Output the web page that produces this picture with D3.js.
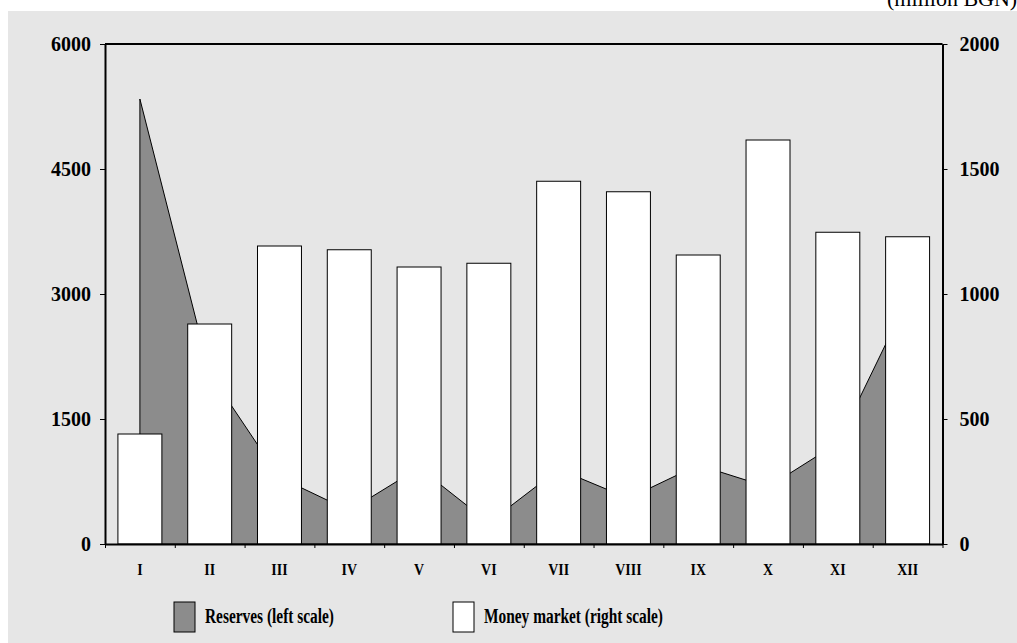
<!DOCTYPE html>
<html>
<head>
<meta charset="utf-8">
<script src="https://cdn.jsdelivr.net/npm/d3@7"></script>
<style>
  html, body { margin: 0; padding: 0; background: #ffffff; }
  svg { display: block; }
  text { font-family: "Liberation Serif", "Times New Roman", serif; font-weight: bold; fill: #000; }
</style>
</head>
<body>
<svg id="chart" width="1017" height="643"></svg>
<script>
// Months of the year
const months = ["I", "II", "III", "IV", "V", "VI", "VII", "VIII", "IX", "X", "XI", "XII"];
// Reserves, million BGN (left scale)
const reserves = [5340, 2050, 800, 400, 915, 255, 897, 548, 948, 683, 1212, 2940];
// Money market, million BGN (right scale)
const moneyMarket = [440, 880, 1192, 1177, 1108, 1123, 1451, 1409, 1156, 1616, 1247, 1229];
// Axis ticks
const leftTicks = [0, 1500, 3000, 4500, 6000];
const rightTicks = [0, 500, 1000, 1500, 2000];

const svg = d3.select("#chart");
const W = 1017, H = 643;
const plot = { left: 105, right: 942.5, top: 44, bottom: 544 };

// Panel background
svg.append("rect").attr("x", 8).attr("y", 11).attr("width", W - 8).attr("height", H - 11)
  .attr("fill", "#e6e6e6");

// Unit note
svg.append("text").attr("x", 887).attr("y", 6).attr("font-size", 22)
  .style("font-weight", "normal").text("(million BGN)");

const x = d3.scaleBand().domain(months).range([plot.left, plot.right])
  .paddingInner(0.37).paddingOuter(0.185);
const yL = d3.scaleLinear().domain([0, 6000]).range([plot.bottom, plot.top]);
const yR = d3.scaleLinear().domain([0, 2000]).range([plot.bottom, plot.top]);
const edges = d3.scaleLinear().domain([0, months.length]).range([plot.left, plot.right]);

// Reserves area
const area = d3.area()
  .x((d, i) => x(months[i]) + x.bandwidth() / 2)
  .y0(yL(0))
  .y1(d => yL(d));
svg.append("path").datum(reserves).attr("d", area)
  .attr("fill", "#8c8c8c").attr("stroke", "#000").attr("stroke-width", 1)
  .attr("stroke-linejoin", "miter");

// Money market bars
svg.append("g").selectAll("rect").data(moneyMarket).join("rect")
  .attr("x", (d, i) => x(months[i]))
  .attr("y", d => yR(d))
  .attr("width", x.bandwidth())
  .attr("height", d => yR(0) - yR(d))
  .attr("fill", "#ffffff").attr("stroke", "#000").attr("stroke-width", 1);

// Frame top line
svg.append("line").attr("x1", plot.left).attr("x2", plot.right)
  .attr("y1", plot.top).attr("y2", plot.top)
  .attr("stroke", "#000").attr("stroke-width", 2);

function styleAxis(g) {
  g.select(".domain").attr("stroke", "#000").attr("stroke-width", 2);
  g.selectAll(".tick line").attr("stroke", "#000").attr("stroke-width", 1);
  g.selectAll("text").attr("font-family", null).attr("font-size", null)
    .style("font-size", "20px");
}

const fmt = d3.format("d");

// Left axis
svg.append("g").attr("transform", `translate(${plot.left},0)`)
  .call(d3.axisLeft(yL).tickValues(leftTicks).tickFormat(fmt)
    .tickSize(5).tickPadding(9).tickSizeOuter(0))
  .call(styleAxis);

// Right axis
svg.append("g").attr("transform", `translate(${plot.right},0)`)
  .call(d3.axisRight(yR).tickValues(rightTicks).tickFormat(fmt)
    .tickSize(5).tickPadding(12).tickSizeOuter(0))
  .call(styleAxis);

// Category boundary ticks
svg.append("g").attr("transform", `translate(0,${plot.bottom})`)
  .call(d3.axisBottom(edges).ticks(months.length).tickFormat("").tickSize(4).tickSizeOuter(0))
  .call(styleAxis);

// Month labels (narrow bold serif)
svg.append("g").attr("transform", `translate(0,${plot.bottom})`)
  .call(d3.axisBottom(x).tickSize(0).tickPadding(19))
  .call(g => g.select(".domain").remove())
  .call(g => g.selectAll("text").attr("font-family", null).attr("font-size", null)
    .style("font-size", "17px").attr("transform", "scale(0.82,1)"));

// Legend
const legend = [
  { label: "Reserves (left scale)", fill: "#8c8c8c", x: 174 },
  { label: "Money market (right scale)", fill: "#ffffff", x: 453 }
];
const lg = svg.append("g");
legend.forEach(item => {
  lg.append("rect").attr("x", item.x).attr("y", 602).attr("width", 21).attr("height", 30)
    .attr("fill", item.fill).attr("stroke", "#000").attr("stroke-width", 1);
  lg.append("g").attr("transform", `translate(${item.x + 31},623)`)
    .append("text").attr("font-size", 20).attr("transform", "scale(0.77,1)")
    .text(item.label);
});
</script>
</body>
</html>
